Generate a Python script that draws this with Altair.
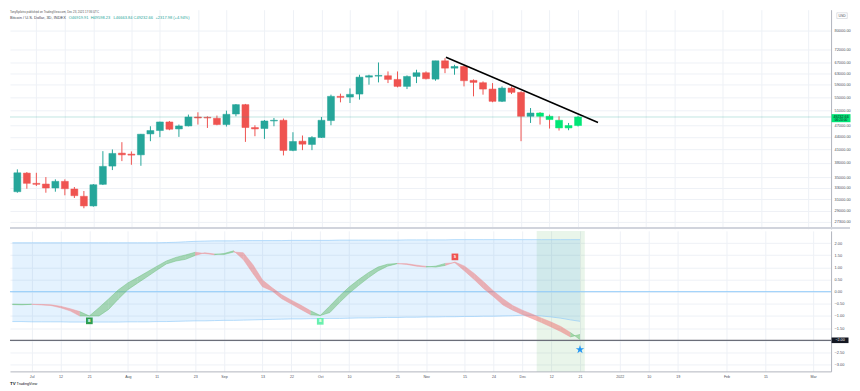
import json
import altair as alt
import pandas as pd

# ---------------- data ----------------
bar_index = list(range(60))
opens = [32308, 35885, 33869, 33736, 32986, 34251, 32801, 31484, 29815, 33679,
         37329, 40156, 39931, 39775, 44753, 45615, 47872, 46026, 46808, 49235,
         49152, 48877, 47178, 50071, 52790, 46390, 46130, 48141, 48332, 40771,
         42955, 42167, 43857, 48250, 55313, 55090, 56030, 61641, 61988, 62128,
         60850, 58505, 61884, 63183, 60953, 67590, 64842, 65465, 60510, 59733,
         57625, 53777, 57950, 56571, 49429, 50352, 49429, 48332, 46286, 46919.91]
highs = [36645, 36093, 35946, 35088, 34638, 34638, 33172, 32435, 33736, 40610,
         41000, 42715, 40542, 44750, 46730, 47950, 48141, 47178, 49903, 50550,
         49429, 49624, 51035, 52968, 53000, 46993, 48413, 48959, 48800, 45182,
         44352, 44178, 49235, 55840, 56155, 57852, 62478, 62478, 66951, 63646,
         63646, 62232, 64259, 63646, 67590, 68584, 66090, 65830, 60850, 60170,
         59600, 58505, 58505, 56890, 51786, 50636, 49903, 49429, 47604, 49598.23]
lows = [32127, 32857, 33359, 32127, 32308, 31661, 31185, 29430, 29698, 33547,
        36501, 38392, 37602, 37392, 42955, 43931, 45692, 44005, 46700, 47178,
        46286, 46993, 46651, 49429, 42787, 44178, 43514, 46730, 39641, 40600,
        40840, 40840, 43759, 46993, 53475, 53266, 54294, 59066, 59834, 59600,
        58177, 57625, 59600, 60850, 60408, 63040, 62478, 58505, 55313, 55840,
        53500, 53566, 56030, 42955, 47604, 47178, 46130, 45615, 45692, 46663.84]
closes = [35946, 33869, 33679, 32986, 34251, 32857, 31590, 29815, 33603, 37266,
          40089, 39775, 39708, 44678, 45615, 47872, 45948, 46808, 49235, 48959,
          48959, 47178, 49987, 52790, 46390, 46026, 48141, 48332, 40771, 42883,
          42238, 43857, 48332, 55313, 54998, 55935, 61641, 62128, 62232, 60850,
          58505, 61884, 63183, 61090, 67590, 64842, 65465, 60408, 59834, 57625,
          53777, 57950, 56571, 49429, 50352, 49429, 48522, 46286, 46920, 49232.66]
highlight_bars = [55, 56, 57, 58, 59]

trend_x = [45.1, 61.1]
trend_price = [68980, 47710]

price_ticks = [80000, 72000, 67000, 63000, 59000, 55000, 51000, 47000, 44000,
               41000, 38000, 35000, 33000, 31000, 29000, 27300]
osc_ticks = [2.0, 1.5, 1.0, 0.5, 0.0, -0.5, -1.0, -1.5, -2.0, -2.5, -3.0]

time_tick_pos = [2, 5, 8, 12, 15, 19, 22, 26, 29, 32, 35, 40, 43, 47, 50, 53, 56, 59,
                 63.14, 66.15, 69.15, 74.23, 78.27, 83.24]
time_tick_labels = ["Jul", "12", "21", "Aug", "11", "23", "Sep", "13", "22", "Oct", "10", "25",
                    "Nov", "15", "24", "Dec", "12", "21", "2022", "10", "19", "Feb", "15", "Mar"]

fast = [-0.51, -0.52, -0.52, -0.545, -0.57, -0.66, -0.79, -1.00, -1.00, -0.66,
        -0.30, 0.07, 0.36, 0.58, 0.81, 1.04, 1.26, 1.41, 1.51, 1.62,
        1.57, 1.52, 1.57, 1.68, 1.32, 0.75, 0.20, 0.03, -0.29, -0.51,
        -0.73, -0.95, -0.98, -0.59, -0.18, 0.19, 0.50, 0.78, 1.01, 1.13,
        1.16, 1.12, 1.05, 1.01, 1.05, 1.16, 1.19, 0.85, 0.50, 0.12,
        -0.20, -0.55, -0.76, -0.94, -1.10, -1.27, -1.45, -1.64, -1.86, -1.76]
slow = [-0.53, -0.54, -0.52, -0.525, -0.54, -0.60, -0.70, -0.82, -1.00, -1.00,
        -0.73, -0.31, 0.08, 0.35, 0.61, 0.88, 1.14, 1.26, 1.33, 1.49,
        1.60, 1.55, 1.53, 1.63, 1.60, 1.11, 0.48, 0.16, -0.13, -0.35,
        -0.56, -0.79, -0.98, -0.86, -0.45, -0.07, 0.26, 0.57, 0.85, 1.05,
        1.15, 1.15, 1.09, 1.04, 1.01, 1.08, 1.22, 1.05, 0.75, 0.40,
        0.03, -0.29, -0.57, -0.76, -0.92, -1.09, -1.25, -1.43, -1.68, -1.97]
seg_dir = ["", "up", "up", "dn", "dn", "dn", "dn", "dn", "up", "up",
           "up", "up", "up", "up", "up", "up", "up", "up", "up", "up",
           "dn", "dn", "up", "up", "dn", "dn", "dn", "dn", "dn", "dn",
           "dn", "dn", "up", "up", "up", "up", "up", "up", "up", "up",
           "up", "dn", "dn", "dn", "up", "up", "dn", "dn", "dn", "dn",
           "dn", "dn", "dn", "dn", "dn", "dn", "dn", "dn", "dn", "up"]
band_upper = [2.01, 2.01, 2.01, 2.01, 2.01, 2.01, 2.01, 2.01, 2.01, 2.01,
              2.01, 2.01, 2.01, 2.01, 2.01, 2.01, 2.02, 2.03, 2.05, 2.07,
              2.08, 2.09, 2.09, 2.09, 2.10, 2.10, 2.10, 2.10, 2.10, 2.11,
              2.11, 2.11, 2.11, 2.11, 2.12, 2.12, 2.12, 2.12, 2.12, 2.12,
              2.12, 2.13, 2.13, 2.13, 2.13, 2.13, 2.14, 2.14, 2.14, 2.14,
              2.14, 2.14, 2.14, 2.14, 2.14, 2.14, 2.14, 2.14, 2.14, 2.14]
band_lower = [-1.23, -1.23, -1.24, -1.24, -1.24, -1.24, -1.25, -1.25, -1.25, -1.25,
              -1.25, -1.25, -1.24, -1.24, -1.24, -1.23, -1.23, -1.22, -1.21, -1.20,
              -1.20, -1.19, -1.18, -1.18, -1.17, -1.16, -1.15, -1.14, -1.13, -1.12,
              -1.12, -1.11, -1.11, -1.10, -1.10, -1.09, -1.08, -1.08, -1.07, -1.06,
              -1.06, -1.05, -1.05, -1.04, -1.04, -1.03, -1.03, -1.02, -1.02, -1.01,
              -1.01, -1.00, -0.99, -0.97, -0.97, -1.00, -1.04, -1.09, -1.16, -1.22]

signal_bars = [8, 32, 46]
signal_values = [-1.20, -1.22, 1.43]
signal_text = ["B", "B", "S"]
signal_colors = ["#2e9e4f", "#69f0ae", "#ef5350"]
star_bar = [59]
star_value = [-2.38]
hline_level = [-2.0]
zero_level = [0.0]

header_text = "TonySpilotro published on TradingView.com, Dec 23, 2021 17:36 UTC"
legend_name = "Bitcoin / U.S. Dollar, 3D, INDEX"
legend_items = ["O46919.91", "H49598.23", "L46663.84", "C49232.66", "+2317.98 (+4.94%)"]
last_price_label = "49232.66"
countdown_label = "06:24:00"

# ---------------- layout / style ----------------
W = 824
H_TOP = 220
H_BOT = 141
X_DOM = [-0.25, 85.1]
TOP_DOM = [26198, 90169]
BOT_DOM = [-3.2787, 2.5]
FONT = "Liberation Sans"
LABEL = "#4a4e59"
GRID = "#eef1f6"
UP, DOWN, BRIGHT = "#26a69a", "#ef5350", "#00e676"
legend_item_x = [59, 81, 104, 124, 146]

xs = alt.Scale(domain=X_DOM, nice=False, zero=False)
ys_top = alt.Scale(type="log", domain=TOP_DOM, nice=False)
ys_bot = alt.Scale(domain=BOT_DOM, nice=False, zero=False)

x_expr = "%s[indexof(%s, datum.value)]" % (json.dumps(time_tick_labels), json.dumps(time_tick_pos))

x_axis_top = alt.Axis(values=time_tick_pos, labels=False, ticks=False, domain=False,
                      title=None, grid=True, gridColor=GRID)
x_axis_bot = alt.Axis(values=time_tick_pos, labelExpr=x_expr, ticks=False, domain=True,
                      domainColor="#b2b5be", title=None, grid=True, gridColor=GRID,
                      labelFont=FONT, labelFontSize=3.6, labelColor=LABEL, labelPadding=3,
                      labelFlush=False, labelOverlap=False)
y_axis_top = alt.Axis(orient="right", values=price_ticks, format=".2f", title=None, ticks=False,
                      domain=True, domainColor="#b2b5be", grid=True, gridColor=GRID,
                      labelFont=FONT, labelFontSize=3.9, labelColor=LABEL, labelPadding=3,
                      labelOverlap=False, labelFlush=False)
y_axis_bot = alt.Axis(orient="right", values=osc_ticks, format=".2f", title=None, ticks=False,
                      domain=True, domainColor="#b2b5be", grid=True, gridColor=GRID,
                      labelFont=FONT, labelFontSize=3.9, labelColor=LABEL, labelPadding=3,
                      labelOverlap=False, labelFlush=False)


def xt(field):
    return alt.X(field, scale=xs, axis=x_axis_top)


def yt(field):
    return alt.Y(field, scale=ys_top, axis=y_axis_top)


def xb(field):
    return alt.X(field, scale=xs, axis=x_axis_bot)


def yb(field):
    return alt.Y(field, scale=ys_bot, axis=y_axis_bot)


# ---------------- top pane ----------------
candles = pd.DataFrame({"i": bar_index, "o": opens, "h": highs, "l": lows, "c": closes})
candles["dir_color"] = [UP if c >= o else DOWN for o, c in zip(opens, closes)]
candles["body_color"] = [BRIGHT if i in highlight_bars else col
                         for i, col in zip(bar_index, candles["dir_color"])]

wicks = alt.Chart(candles).mark_rule(strokeWidth=1).encode(
    x=xt("i:Q"), y=yt("l:Q"), y2="h:Q",
    color=alt.Color("dir_color:N", scale=None),
)
bodies = alt.Chart(candles).mark_bar(size=7, strokeWidth=0.5).encode(
    x=xt("i:Q"), y=yt("o:Q"), y2="c:Q",
    color=alt.Color("body_color:N", scale=None),
    stroke=alt.Stroke("body_color:N", scale=None),
)
trend = pd.DataFrame({"x": trend_x, "p": trend_price})
trend_line = alt.Chart(trend).mark_line(color="#000000", strokeWidth=1.6).encode(
    x=xt("x:Q"), y=yt("p:Q"))
last = pd.DataFrame({"c": [closes[-1]], "t1": [last_price_label], "t2": [countdown_label]})
price_line = alt.Chart(last).mark_rule(color=UP, strokeWidth=0.8, opacity=0.35).encode(
    y=yt("c:Q"))
price_box = alt.Chart(last).mark_point(
    shape="M-1,-0.3L1,-0.3L1,0.55L-1,0.55Z", size=361, filled=True, color=BRIGHT,
    opacity=1, strokeWidth=0).encode(x=alt.value(W + 10), y=yt("c:Q"))
price_t1 = alt.Chart(last).mark_text(font=FONT, fontSize=3.7, color="#131722", align="center",
                                     baseline="middle", dy=-0.3).encode(
    x=alt.value(W + 10), y=yt("c:Q"), text="t1:N")
price_t2 = alt.Chart(last).mark_text(font=FONT, fontSize=3.3, color="#131722", align="center",
                                     baseline="middle", dy=3.3).encode(
    x=alt.value(W + 10), y=yt("c:Q"), text="t2:N")

header = alt.Chart(pd.DataFrame({"t": [header_text]})).mark_text(
    font=FONT, fontSize=2.9, color="#555", align="left", baseline="middle").encode(
    x=alt.value(0), y=alt.value(2.5), text="t:N")
legend_nm = alt.Chart(pd.DataFrame({"t": [legend_name]})).mark_text(
    font=FONT, fontSize=4, color="#434651", align="left", baseline="middle").encode(
    x=alt.value(0), y=alt.value(8.5), text="t:N")
legend_layers = [
    alt.Chart(pd.DataFrame({"t": [item]})).mark_text(
        font=FONT, fontSize=4, color=UP, align="left", baseline="middle").encode(
        x=alt.value(px), y=alt.value(8.5), text="t:N")
    for item, px in zip(legend_items, legend_item_x)
]
usd_box = alt.Chart(pd.DataFrame({"t": ["USD"]})).mark_point(
    shape="M-1,-0.55L1,-0.55L1,0.55L-1,0.55Z", size=110, filled=False, color="#c9ccd4",
    strokeWidth=0.6, opacity=1).encode(x=alt.value(W + 11), y=alt.value(6))
usd_txt = alt.Chart(pd.DataFrame({"t": ["USD"]})).mark_text(
    font=FONT, fontSize=3.4, color="#434651", align="center", baseline="middle").encode(
    x=alt.value(W + 11), y=alt.value(6), text="t:N")
sep = alt.Chart(pd.DataFrame({"a": [0]})).mark_rule(color="#d1d4dc", strokeWidth=2).encode(
    x=alt.value(0), x2=alt.value(W + 19), y=alt.value(H_TOP - 1))

top = alt.layer(wicks, bodies, trend_line, price_line, price_box, price_t1, price_t2,
                header, legend_nm, *legend_layers, usd_box, usd_txt, sep).properties(
    width=W, height=H_TOP)

# ---------------- bottom pane ----------------
shade_df = pd.DataFrame({"x0": [min(highlight_bars) - 0.5], "x1": [max(highlight_bars) + 0.5]})
shade = alt.Chart(shade_df).mark_rect(color="#4caf50", opacity=0.12).encode(
    x=xb("x0:Q"), x2="x1:Q", y=alt.value(0), y2=alt.value(H_BOT))

band_df = pd.DataFrame({"i": bar_index, "up": band_upper, "lo": band_lower})
band = alt.Chart(band_df).mark_area(color="#2196f3", opacity=0.12).encode(
    x=xb("i:Q"), y=yb("up:Q"), y2="lo:Q")
band_up = alt.Chart(band_df).mark_line(color="#90caf9", strokeWidth=0.8, opacity=0.8).encode(
    x=xb("i:Q"), y=yb("up:Q"))
band_lo = alt.Chart(band_df).mark_line(color="#90caf9", strokeWidth=0.8, opacity=0.8).encode(
    x=xb("i:Q"), y=yb("lo:Q"))

zero_rule = alt.Chart(pd.DataFrame({"v": zero_level})).mark_rule(
    color="#90caf9", strokeWidth=1.2, opacity=0.8).encode(y=yb("v:Q"))
level_rule = alt.Chart(pd.DataFrame({"v": hline_level})).mark_rule(
    color="#6b6e79", strokeWidth=1.2).encode(y=yb("v:Q"))

rows = []
for k in range(1, len(bar_index)):
    for j in (k - 1, k):
        rows.append({"i": bar_index[j], "f": fast[j], "s": slow[j], "seg": k, "dir": seg_dir[k]})
ribbon = pd.DataFrame(rows)
ribbon["fill"] = ribbon["dir"].map({"up": "#4caf50", "dn": "#ef5350"})
ribbon["edge"] = ribbon["dir"].map({"up": "#6cc07a", "dn": "#eb9aa0"})

rib_area = alt.Chart(ribbon).mark_area(opacity=0.42).encode(
    x=xb("i:Q"), y=yb("f:Q"), y2="s:Q",
    detail="seg:N", color=alt.Color("fill:N", scale=None))
rib_f = alt.Chart(ribbon).mark_line(strokeWidth=0.6, opacity=0.8).encode(
    x=xb("i:Q"), y=yb("f:Q"), detail="seg:N", color=alt.Color("edge:N", scale=None))
rib_s = alt.Chart(ribbon).mark_line(strokeWidth=0.6, opacity=0.8).encode(
    x=xb("i:Q"), y=yb("s:Q"), detail="seg:N", color=alt.Color("edge:N", scale=None))

sig_df = pd.DataFrame({"i": signal_bars, "v": signal_values, "t": signal_text, "col": signal_colors})
sig_pts = alt.Chart(sig_df).mark_point(shape="square", size=45, filled=True, opacity=1,
                                       strokeWidth=0).encode(
    x=xb("i:Q"), y=yb("v:Q"), color=alt.Color("col:N", scale=None))
sig_txt = alt.Chart(sig_df).mark_text(font=FONT, fontSize=3.5, color="white",
                                      fontWeight="bold", baseline="middle").encode(
    x=xb("i:Q"), y=yb("v:Q"), text="t:N")

star_path = ("M0,-1L0.2245,-0.309L0.951,-0.309L0.363,0.118L0.588,0.809L0,0.382"
             "L-0.588,0.809L-0.363,0.118L-0.951,-0.309L-0.2245,-0.309Z")
star = alt.Chart(pd.DataFrame({"i": star_bar, "v": star_value})).mark_point(
    shape=star_path, size=80, filled=True, color="#2196f3", opacity=1, strokeWidth=0).encode(
    x=xb("i:Q"), y=yb("v:Q"))

lvl_df = pd.DataFrame({"v": hline_level, "t": ["\u22122.00"]})
lvl_box = alt.Chart(lvl_df).mark_point(
    shape="M-1,-0.33L1,-0.33L1,0.33L-1,0.33Z", size=289, filled=True, color="#131722",
    opacity=1, strokeWidth=0).encode(x=alt.value(W + 9), y=yb("v:Q"))
lvl_txt = alt.Chart(lvl_df).mark_text(font=FONT, fontSize=3.7, color="white",
                                      align="center", baseline="middle").encode(
    x=alt.value(W + 9), y=yb("v:Q"), text="t:N")

logo_tv = alt.Chart(pd.DataFrame({"t": ["TV"]})).mark_text(
    font=FONT, fontSize=4.4, fontWeight="bold", color="#131722", align="left",
    baseline="middle").encode(x=alt.value(0), y=alt.value(H_BOT + 12.5), text="t:N")
logo_txt = alt.Chart(pd.DataFrame({"t": ["TradingView"]})).mark_text(
    font=FONT, fontSize=3.8, color="#131722", align="left", baseline="middle").encode(
    x=alt.value(6.5), y=alt.value(H_BOT + 12.5), text="t:N")

bottom = alt.layer(shade, band, band_up, band_lo, zero_rule, level_rule, rib_area, rib_f, rib_s,
                   sig_pts, sig_txt, star, lvl_box, lvl_txt, logo_tv, logo_txt).properties(
    width=W, height=H_BOT)

chart = alt.VConcatChart(
    vconcat=[top, bottom], spacing=0,
    padding={"left": 0, "top": 0, "right": 0, "bottom": 0},
    autosize=alt.AutoSizeParams(type="pad"),
    background="white",
).configure(font=FONT).configure_view(stroke="transparent")

chart.save("out.html", embed_options={"renderer": "svg", "actions": False})
